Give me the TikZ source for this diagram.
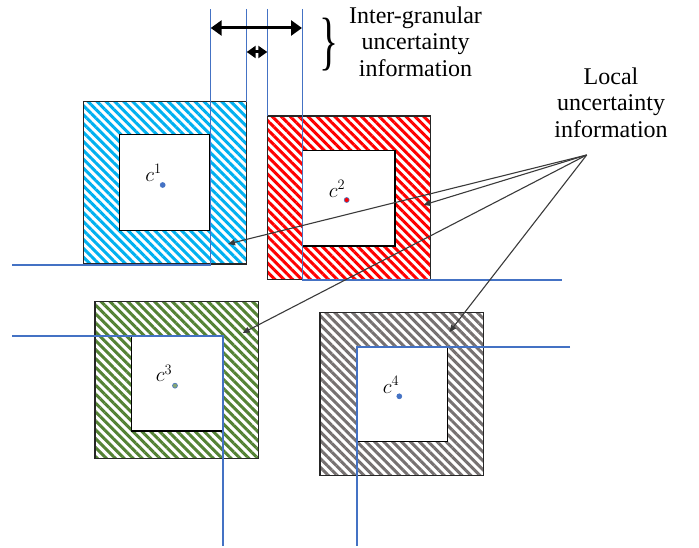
\documentclass[tikz,border=0pt]{standalone}
\usepackage{fontspec}
\setmainfont{Liberation Serif}
\usetikzlibrary{patterns.meta,arrows.meta}
\definecolor{hblue}{HTML}{00B0F0}
\definecolor{hred}{HTML}{FF0000}
\definecolor{hgreen}{HTML}{548235}
\definecolor{hgray}{HTML}{767171}
\definecolor{lblue}{HTML}{4472C4}
\definecolor{ptr}{HTML}{3A3A3A}
\begin{document}
\begin{tikzpicture}[x=1pt,y=-1pt,
  outerbox/.style={draw=black!85,line width=1.3pt,inner sep=0pt,outer sep=0pt,
    minimum width=163.4pt,minimum height=163pt,
    pattern={Lines[angle=-45,distance=6.3pt,line width=3pt]},pattern color=#1},
  innerbox/.style={draw=black,fill=white,line width=1.3pt,inner sep=0pt,outer sep=0pt},
  gridline/.style={draw=lblue,line width=1.5pt},
  centerdot/.style={circle,fill=#1,draw=lblue,line width=0.6pt,minimum size=5pt,inner sep=0pt},
  clabel/.style={font=\fontsize{21}{21}\selectfont,inner sep=0pt},
  bigtext/.style={font=\fontsize{24}{26.5}\selectfont,align=center,inner sep=0pt},
  ptrline/.style={draw=ptr,line width=1.1pt,-{Triangle[length=7pt,width=6pt]}},
  gaparrow/.style={draw=black,line width=3pt,{Triangle[length=#1]}-{Triangle[length=#1]}},
  gaparrow/.default={11pt,width=15pt}
]
\useasboundingbox (0,0) rectangle (699,548);

% outer hatched squares
\node[outerbox=hblue,minimum height=162.3pt] (s1) at (165,182.85) {};
\node[outerbox=hred,minimum height=163.3pt] (s2) at (349,197.65) {};
\node[outerbox=hgreen,minimum width=163.3pt,minimum height=156.6pt] (s3) at (176.65,380) {};
\node[outerbox=hgray,minimum width=163.3pt,minimum height=163.4pt] (s4) at (401.65,394) {};

% inner white squares
\node[innerbox,minimum width=90.7pt,minimum height=96.4pt] (i1) at (164.65,182.5) {};
\node[innerbox,minimum width=92.3pt,minimum height=95.3pt] (i2) at (348.85,198.35) {};
\node[innerbox,minimum width=91.6pt,minimum height=95.3pt] (i3) at (177.5,383.35) {};
\node[innerbox,minimum width=90.6pt,minimum height=95pt] (i4) at (402,394.2) {};

% blue grid lines
\draw[gridline] (12,265) -- (210.5,265) -- (210.5,9);
\draw[gridline] (246.7,9) -- (246.7,101.7);
\draw[gridline] (267.3,9) -- (267.3,116);
\draw[gridline] (302.7,9) -- (302.7,280) -- (562,280);
\draw[gridline] (12,336) -- (223,336) -- (223,546);
\draw[gridline] (570,347) -- (357,347) -- (357,546);

% centres
\node[centerdot=lblue] (d1) at (162.7,185) {};
\node[centerdot=hred] (d2) at (346.7,200) {};
\node[centerdot=hgreen!70] (d3) at (175,385.7) {};
\node[centerdot=lblue] (d4) at (399.3,396.3) {};
\node[clabel] (l1) at (153.5,173) {$c^{1}$};
\node[clabel] (l2) at (337,189) {$c^{2}$};
\node[clabel] (l3) at (164,373.5) {$c^{3}$};
\node[clabel] (l4) at (391,385) {$c^{4}$};

% inter-granular gap arrows
\coordinate (g1a) at (210.7,28);
\coordinate (g1b) at (302,28);
\coordinate (g2a) at (246.7,52);
\coordinate (g2b) at (267.3,52);
\draw[gaparrow] (g1a) -- (g1b);
\draw[gaparrow={9pt,width=12pt}] (g2a) -- (g2b);

% brace and texts
\node[inner sep=0pt,font=\fontsize{64}{64}\selectfont] (brace) at (329,45) {\scalebox{0.62}[1]{\}}};
\node[bigtext] (igtext) at (415.5,41.3) {Inter-granular\\uncertainty\\information};
\node[bigtext] (loctext) at (611,102.5) {Local\\uncertainty\\information};

% pointers
\coordinate (src) at (586.7,155);
\coordinate (t1) at (228,244);
\coordinate (t2) at (423.5,205);
\coordinate (t3) at (242.7,333);
\coordinate (t4) at (449.5,332);
\draw[ptrline] (src) -- (t1);
\draw[ptrline] (src) -- (t2);
\draw[ptrline] (src) -- (t3);
\draw[ptrline] (src) -- (t4);
\end{tikzpicture}
\end{document}
